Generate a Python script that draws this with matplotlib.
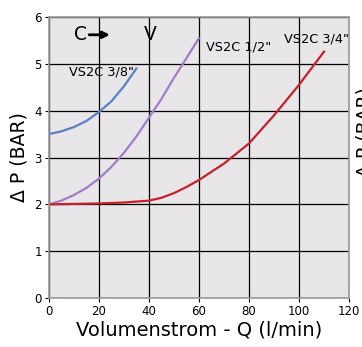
import matplotlib
matplotlib.use("Agg")
import matplotlib.pyplot as plt
import numpy as np

# Data
q_38 = [0, 5, 10, 15, 20, 25, 30, 35]
dp_38 = [3.5, 3.56, 3.65, 3.78, 3.97, 4.2, 4.52, 4.9]

q_12 = [0, 5, 10, 15, 20, 25, 30, 35, 40, 45, 50, 55, 60]
dp_12 = [2.0, 2.08, 2.2, 2.35, 2.55, 2.8, 3.1, 3.45, 3.85, 4.25, 4.7, 5.12, 5.55]

q_34 = [0, 10, 20, 30, 40, 45, 50, 55, 60, 70, 80, 90, 100, 110]
dp_34 = [2.0, 2.01, 2.02, 2.04, 2.08, 2.14, 2.24, 2.37, 2.52, 2.87, 3.3, 3.9, 4.55, 5.26]

x_ticks = [0, 20, 40, 60, 80, 100, 120]
y_ticks = [0, 1, 2, 3, 4, 5, 6]

fig = plt.figure(figsize=(3.62, 3.47), dpi=100)
ax = fig.add_axes([0.135, 0.141, 0.829, 0.810])
ax.set_facecolor("#e8e6e8")

ax.plot(q_38, dp_38, color="#5b7fc8", lw=1.6)
ax.plot(q_12, dp_12, color="#a57cc4", lw=1.6)
ax.plot(q_34, dp_34, color="#c8202a", lw=1.6)

ax.set_xlim(0, 120)
ax.set_ylim(0, 6)
ax.set_xticks(x_ticks)
ax.set_yticks(y_ticks)
ax.grid(True, color="black", lw=0.9)
ax.set_axisbelow(True)
for s in ax.spines.values():
    s.set_color("#999999")
    s.set_linewidth(1.2)
ax.tick_params(length=3, width=0.8, labelsize=8.5, pad=2)

ax.set_xlabel("Volumenstrom - Q (l/min)", fontsize=14, labelpad=2)
ax.set_ylabel("Δ P (BAR)", fontsize=13.5, labelpad=4)

ax.text(8, 4.83, 'VS2C 3/8"', fontsize=9.3, va="center")
ax.text(63, 5.36, 'VS2C 1/2"', fontsize=9.3, va="center")
ax.text(94, 5.52, 'VS2C 3/4"', fontsize=9.3, va="center")

ax.text(12.6, 5.62, "C", fontsize=13.5, va="center", ha="center")
ax.annotate("", xy=(25.5, 5.62), xytext=(15, 5.62),
            arrowprops=dict(arrowstyle="-|>", color="black", lw=2, mutation_scale=10))
ax.text(40.4, 5.62, "V", fontsize=13.5, va="center", ha="center")

fig.text(0.982, 0.62, "Δ P (BAR)", fontsize=13.5, rotation=90, va="center", ha="left")

fig.savefig("out.png", dpi=100)
